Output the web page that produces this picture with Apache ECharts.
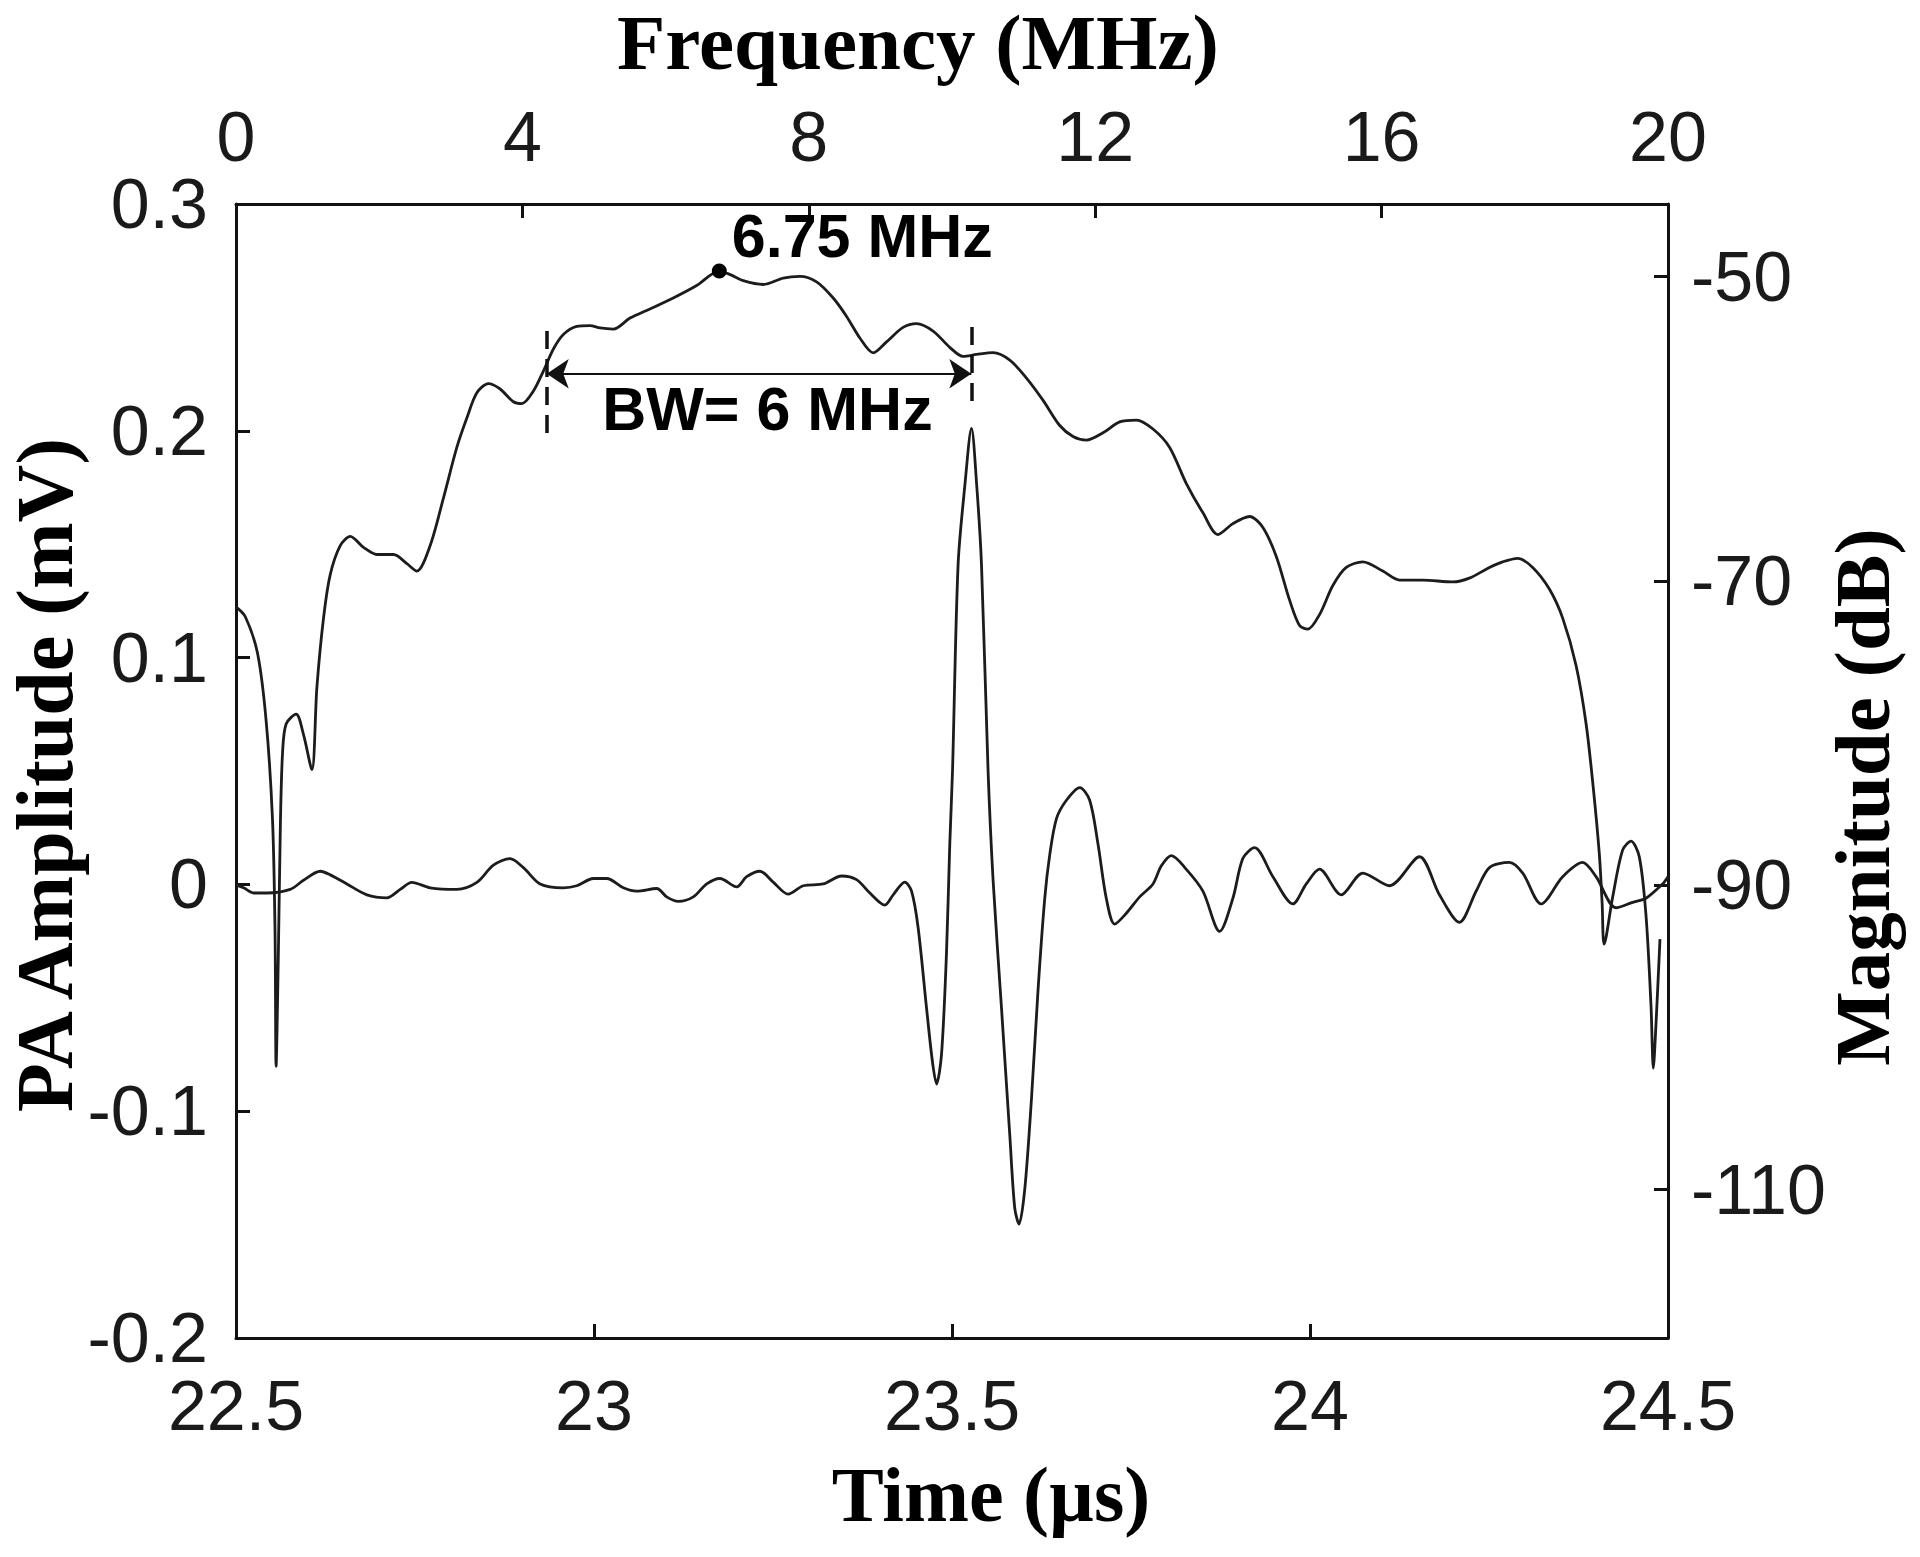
<!DOCTYPE html>
<html>
<head>
<meta charset="utf-8">
<script src="https://cdn.jsdelivr.net/npm/echarts@6/dist/echarts.min.js"></script>
<style>
html,body{margin:0;padding:0;background:#fff;}
#chart{width:1920px;height:1557px;}
</style>
</head>
<body>
<div id="chart"></div>
<script>
// ---- Spectrum (top axis: Frequency, right axis: Magnitude) ----
const freqMHz = [0, 0.13, 0.30, 0.42, 0.51, 0.545, 0.56, 0.59, 0.62, 0.65, 0.70, 0.84, 0.943, 1.06, 1.13, 1.223, 1.316, 1.456, 1.596, 1.781, 1.968, 2.2, 2.387, 2.526, 2.712, 2.897, 3.084, 3.224, 3.364, 3.525, 3.689, 3.874, 3.992, 4.154, 4.293, 4.433, 4.572, 4.759, 4.945, 5.084, 5.27, 5.503, 5.782, 6.107, 6.434, 6.75, 6.903, 7.085, 7.364, 7.643, 7.876, 8.109, 8.341, 8.528, 8.713, 8.899, 9.086, 9.317, 9.505, 9.736, 9.969, 10.155, 10.342, 10.574, 10.807, 11.04, 11.27, 11.505, 11.69, 11.877, 12.109, 12.342, 12.575, 12.807, 13.04, 13.273, 13.505, 13.714, 13.923, 14.156, 14.342, 14.529, 14.715, 14.854, 14.97, 15.133, 15.319, 15.506, 15.738, 16.017, 16.25, 16.575, 16.994, 17.226, 17.506, 17.691, 17.9, 18.11, 18.343, 18.529, 18.716, 18.856, 18.955, 19.04, 19.08, 19.108, 19.227, 19.366, 19.483, 19.6, 19.693, 19.763, 19.795, 19.832, 19.888];
const magnitudeDB = [-71.7, -72.35, -74.74, -79.15, -85.7, -93.0, -101.9, -95.0, -86.0, -81.3, -79.4, -78.75, -80.1, -82.4, -76.98, -72.41, -69.58, -67.67, -67.07, -67.79, -68.26, -68.26, -68.86, -69.35, -67.67, -64.55, -61.22, -59.29, -57.63, -57.03, -57.38, -58.22, -58.34, -57.51, -56.2, -54.75, -53.8, -53.27, -53.21, -53.37, -53.44, -52.72, -52.12, -51.4, -50.58, -49.63, -49.86, -50.26, -50.51, -50.09, -49.98, -50.34, -51.4, -52.61, -54.03, -55.0, -54.28, -53.33, -53.08, -53.57, -54.64, -55.24, -55.11, -54.99, -55.48, -56.66, -58.11, -59.78, -60.5, -60.74, -60.26, -59.54, -59.42, -60.01, -61.22, -63.6, -65.52, -66.95, -66.23, -65.76, -66.48, -68.39, -71.26, -72.93, -73.16, -72.21, -70.3, -69.11, -68.74, -69.35, -69.94, -69.94, -70.06, -69.81, -69.11, -68.74, -68.51, -69.11, -70.53, -72.44, -75.56, -79.38, -83.53, -87.89, -91.18, -93.87, -90.78, -87.69, -87.1, -88.15, -92.0, -97.95, -102.02, -99.16, -93.54];

// ---- Time signal (bottom axis: Time, left axis: PA Amplitude) ----
const timeUs = [22.5, 22.5106, 22.5246, 22.5433, 22.5758, 22.5943, 22.6177, 22.6316, 22.6549, 22.6828, 22.7107, 22.7293, 22.7456, 22.7712, 22.8084, 22.8364, 22.8595, 22.8828, 22.9014, 22.9247, 22.9572, 22.9759, 22.9991, 23.0178, 23.041, 23.0597, 23.0876, 23.1015, 23.1177, 23.1387, 23.1574, 23.1759, 23.1992, 23.2132, 23.2317, 23.2503, 23.2712, 23.2922, 23.3201, 23.3458, 23.3667, 23.3853, 23.4062, 23.4178, 23.4341, 23.4435, 23.4527, 23.4644, 23.4728, 23.4784, 23.4853, 23.4923, 23.4969, 23.5007, 23.5085, 23.518, 23.5272, 23.5345, 23.5412, 23.5504, 23.5574, 23.5691, 23.5807, 23.5876, 23.5936, 23.6016, 23.611, 23.6202, 23.6295, 23.6365, 23.6459, 23.6598, 23.6784, 23.6923, 23.7039, 23.7156, 23.7272, 23.7435, 23.7621, 23.7807, 23.7924, 23.8064, 23.8273, 23.8504, 23.8738, 23.8923, 23.9063, 23.9226, 23.9482, 23.9761, 23.9948, 24.0133, 24.0436, 24.0738, 24.111, 24.1529, 24.1808, 24.2087, 24.232, 24.2506, 24.2785, 24.2971, 24.3228, 24.3529, 24.3808, 24.3995, 24.4274, 24.4506, 24.4693, 24.4925, 24.5];
const ampMV = [-0.0002, -0.0015, -0.0038, -0.0038, -0.0022, 0.0018, 0.0058, 0.0042, 0.0002, -0.0046, -0.0059, -0.0022, 0.0009, -0.0015, -0.0022, 0.0009, 0.0085, 0.0114, 0.0074, 0.0002, -0.0015, -0.0006, 0.0026, 0.0026, -0.0015, -0.003, -0.0018, -0.0055, -0.0075, -0.0055, 0.0002, 0.0026, -0.0011, 0.0034, 0.0058, 0.001, -0.0043, -0.0006, 0.0002, 0.0037, 0.0021, -0.0038, -0.0091, -0.0046, 0.001, -0.003, -0.0191, -0.0544, -0.0785, -0.088, -0.0752, -0.0303, 0.0178, 0.0499, 0.1409, 0.176, 0.2011, 0.176, 0.1409, 0.0499, 0.0018, -0.0544, -0.1105, -0.1426, -0.1498, -0.1345, -0.0945, -0.0464, -0.0063, 0.013, 0.029, 0.0371, 0.0427, 0.0371, 0.0178, -0.0063, -0.0175, -0.0127, -0.0055, 0.0002, 0.0082, 0.0127, 0.0066, -0.003, -0.0207, -0.0061, 0.0115, 0.0162, 0.0034, -0.0086, 0.0002, 0.0067, -0.0046, 0.005, -0.0006, 0.0122, -0.0046, -0.0167, -0.003, 0.0074, 0.0097, 0.005, -0.0086, 0.0034, 0.0097, 0.0034, -0.0103, -0.0079, -0.0061, 0.0002, 0.0034];

// ---- Axis ranges / ticks ----
const timeRange = [22.5, 24.5];
const timeStep = 0.5;
const freqRange = [0, 20];
const freqStep = 4;
const ampRange = [-0.2, 0.3];
const ampStep = 0.1;
const magRange = [-119.76, -45.22];
const magTicks = [-110, -90, -70, -50];

// ---- Annotations ----
const peakFreq = 6.75, peakDB = -49.63;
const peakLabel = '6.75 MHz';
const bwLow = 4.34, bwHigh = 10.27;
const bwArrowDB = -56.38;
const bwLeftDash = [-53.57, -60.87];
const bwRightDash = [-53.31, -58.3];
const bwTextPos = [5.108, -58.7];
const bwLabel = 'BW= 6 MHz';

const INK = '#111';
const LINE = '#1c1c1c';
const sansFont = '"Liberation Sans", Arial, Helvetica, sans-serif';
const serifFont = '"Liberation Serif", "Times New Roman", serif';

function axisBase() {
  return {
    axisLine: {show: true, onZero: false, lineStyle: {color: INK, width: 3}},
    axisTick: {show: true, inside: true, length: 14, lineStyle: {color: INK, width: 3}},
    splitLine: {show: false},
    axisLabel: {color: '#1a1a1a', fontSize: 70, fontFamily: sansFont}
  };
}

const xBottom = Object.assign(axisBase(), {type: 'value', position: 'bottom', min: timeRange[0], max: timeRange[1], interval: timeStep});
xBottom.axisLabel.margin = 33;
const xTop = Object.assign(axisBase(), {type: 'value', position: 'top', min: freqRange[0], max: freqRange[1], interval: freqStep});
xTop.axisLabel.margin = 32;
const yLeft = Object.assign(axisBase(), {type: 'value', position: 'left', min: ampRange[0], max: ampRange[1], interval: ampStep});
yLeft.axisLabel.margin = 28;
yLeft.axisLabel.padding = [12, 0, 0, 0];
const yRight = Object.assign(axisBase(), {type: 'value', position: 'right', min: magRange[0], max: magRange[1]});
yRight.axisLabel.margin = 23;
yRight.axisLabel.padding = [10, 0, 0, 0];
yRight.axisLabel.customValues = magTicks;
yRight.axisTick.customValues = magTicks;

const dashStyle = {type: [18, 10], width: 3.5, color: INK};

const chart = echarts.init(document.getElementById('chart'), null, {renderer: 'svg', width: 1920, height: 1557});
chart.setOption({
  animation: false,
  backgroundColor: '#fff',
  grid: {left: 236, right: 252, top: 204, bottom: 219, containLabel: false},
  xAxis: [xBottom, xTop],
  yAxis: [yLeft, yRight],
  series: [
    {
      name: 'Time signal', type: 'line', xAxisIndex: 0, yAxisIndex: 0,
      data: timeUs.map((t, i) => [t, ampMV[i]]),
      showSymbol: false, symbol: 'none', smooth: 0.3,
      lineStyle: {color: LINE, width: 2.8}, z: 3
    },
    {
      name: 'Spectrum', type: 'line', xAxisIndex: 1, yAxisIndex: 1,
      data: freqMHz.map((f, i) => [f, magnitudeDB[i]]),
      showSymbol: false, symbol: 'none', smooth: 0.3,
      lineStyle: {color: LINE, width: 2.8}, z: 3,
      markLine: {
        silent: true, symbol: 'none', animation: false,
        label: {show: false},
        data: [
          [{coord: [bwLow, bwLeftDash[0]], lineStyle: dashStyle}, {coord: [bwLow, bwLeftDash[1]]}],
          [{coord: [bwHigh, bwRightDash[0]], lineStyle: dashStyle}, {coord: [bwHigh, bwRightDash[1]]}]
        ]
      }
    },
    {
      name: 'BW arrow', type: 'line', xAxisIndex: 1, yAxisIndex: 1, data: [],
      markLine: {
        silent: true, animation: false,
        symbol: ['arrow', 'arrow'], symbolSize: [22, 22],
        label: {show: false},
        lineStyle: {color: INK, width: 2, type: 'solid', opacity: 1},
        itemStyle: {color: INK},
        data: [[{coord: [bwLow, bwArrowDB]}, {coord: [bwHigh, bwArrowDB]}]]
      }
    },
    {
      name: 'Peak', type: 'scatter', xAxisIndex: 1, yAxisIndex: 1,
      data: [[peakFreq, peakDB]], symbolSize: 15,
      itemStyle: {color: '#000', opacity: 1}, z: 5,
      label: {show: true, formatter: peakLabel, position: 'right', distance: 5, offset: [0, -35],
        color: '#000', opacity: 1, fontSize: 61, fontWeight: 'bold', fontFamily: sansFont}
    },
    {
      name: 'BW text', type: 'scatter', xAxisIndex: 1, yAxisIndex: 1,
      data: [bwTextPos], symbolSize: 1,
      itemStyle: {color: '#fff', opacity: 1}, z: 5,
      label: {show: true, formatter: bwLabel, position: 'right', distance: 0,
        color: '#000', opacity: 1, fontSize: 61, fontWeight: 'bold', fontFamily: sansFont}
    }
  ],
  graphic: [
    {type: 'text', x: 918, y: 42, style: {text: 'Frequency (MHz)', font: 'bold 79px ' + serifFont, fill: '#000', textAlign: 'center', textVerticalAlign: 'middle', align: 'center', verticalAlign: 'middle'}},
    {type: 'text', x: 991, y: 1494, style: {text: 'Time (µs)', font: 'bold 78px ' + serifFont, fill: '#000', textAlign: 'center', textVerticalAlign: 'middle', align: 'center', verticalAlign: 'middle'}},
    {type: 'text', x: 45, y: 775, rotation: Math.PI / 2, style: {text: 'PA Amplitude (mV)', font: 'bold 80px ' + serifFont, fill: '#000', textAlign: 'center', textVerticalAlign: 'middle', align: 'center', verticalAlign: 'middle'}},
    {type: 'text', x: 1862, y: 797, rotation: Math.PI / 2, style: {text: 'Magnitude (dB)', font: 'bold 79px ' + serifFont, fill: '#000', textAlign: 'center', textVerticalAlign: 'middle', align: 'center', verticalAlign: 'middle'}}
  ]
});
</script>
</body>
</html>
